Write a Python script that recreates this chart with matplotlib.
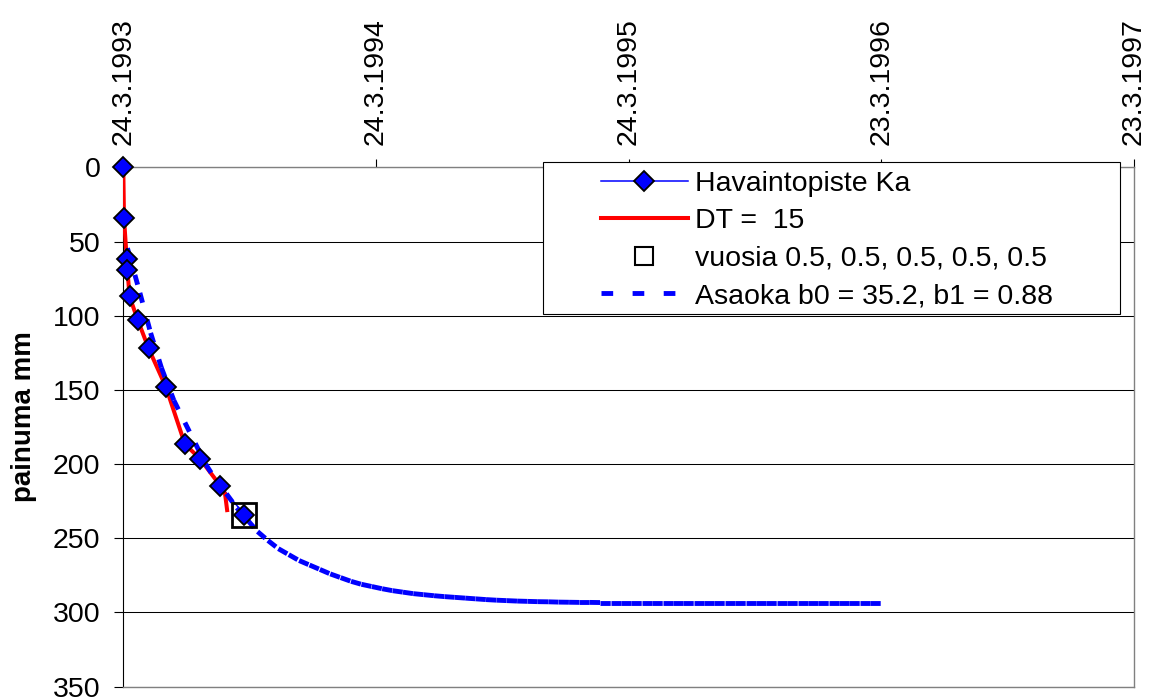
"""Settlement observations at point Ka with Asaoka prediction."""

import matplotlib
matplotlib.use("Agg")
import numpy as np
import matplotlib.pyplot as plt
import matplotlib.dates as mdates
from matplotlib.collections import LineCollection
from matplotlib.lines import Line2D
from matplotlib.patches import Rectangle

# days counted from the first observation 24.3.1993
start_date = "1993-03-24"

obs_days = [0, 1, 5, 6, 9, 21, 36.5, 61.5, 89, 111, 140, 175]
obs_vals = [0, 34, 62, 69, 87, 103, 122, 148, 186.5, 196.5, 214.5, 234]

red_days = [0, 1, 5, 6, 9, 21, 36.5, 61.5, 89, 111, 140, 147, 150]
red_vals = [0, 34, 62, 69, 87, 103, 122, 148, 186.5, 196.5, 214.5, 220, 231]

vuosia_days = [175]
vuosia_vals = [234]

asa_early_days = [6, 24, 39.5, 55, 73, 89, 104, 119, 134]
asa_early_vals = [54.5, 84.6, 111.6, 135, 157, 172, 186, 200, 211]
asa_tail_days = list(range(149, 1095, 15))
asa_tail_vals = [
    220, 229.5, 237.5, 245.5, 251.5, 257, 261, 265, 268, 271,
    274, 276.5, 279, 281, 282.5, 284, 285.3, 286.3, 287.3, 288,
    288.7, 289.3, 289.8, 290.3, 290.8, 291.3, 291.7, 292, 292.3, 292.5,
    292.7, 292.8, 293, 293.1, 293.2, 293.2, 293.3, 293.3, 293.3, 293.3,
    293.3, 293.3, 293.3, 293.3, 293.3, 293.3, 293.3, 293.3, 293.3, 293.3,
    293.3, 293.3, 293.3, 293.3, 293.3, 293.3, 293.3, 293.3, 293.3, 293.3,
    293.3, 293.3, 293.3, 293.3,
]

tick_dates = ["1993-03-24", "1994-03-24", "1995-03-24", "1996-03-23", "1997-03-23"]
tick_labels = ["24.3.1993", "24.3.1994", "24.3.1995", "23.3.1996", "23.3.1997"]
y_ticks = [0, 50, 100, 150, 200, 250, 300, 350]

labels = ["Havaintopiste Ka", "DT =  15", "vuosia 0.5, 0.5, 0.5, 0.5, 0.5",
          "Asaoka b0 = 35.2, b1 = 0.88"]


def main():
    plt.rcParams["font.family"] = ["Liberation Sans", "DejaVu Sans"]
    FS = 20.5
    BLUE = "#0000ff"
    RED = "#ff0000"
    asa_ls = (0, (2.1, 3.6))

    t0 = mdates.datestr2num(start_date)
    x_obs = t0 + np.array(obs_days)
    x_red = t0 + np.array(red_days)
    x_vuo = t0 + np.array(vuosia_days)
    x_asa = t0 + np.array(asa_early_days + asa_tail_days, dtype=float)
    y_asa = np.array(asa_early_vals + asa_tail_vals, dtype=float)

    fig = plt.figure(figsize=(11.49, 6.98), dpi=100)
    ax = fig.add_axes([0.1073, 0.0162, 0.8796, 0.7441])

    # observation line (mostly under the red one)
    ax.plot(x_obs, obs_vals, color=BLUE, lw=1.1, zorder=2)
    ax.plot(x_red, red_vals, color=RED, lw=2.9, zorder=3)

    # Asaoka curve, dash pattern restarts on every segment
    pts = np.column_stack([x_asa, y_asa])
    segs = [pts[i:i + 2] for i in range(len(pts) - 1)]
    lc = LineCollection(segs, colors=BLUE, linewidths=3.5,
                        linestyles=[asa_ls], capstyle="butt", zorder=4)
    ax.add_collection(lc)

    ax.plot(x_obs, obs_vals, ls="none", marker="D", ms=10, mfc=BLUE,
            mec="black", mew=1.3, zorder=6, clip_on=False)
    ax.plot(x_vuo, vuosia_vals, ls="none", marker="s", ms=17, mfc="none",
            mec="black", mew=2, zorder=7, clip_on=False)

    # axes
    ax.set_xlim(t0, mdates.datestr2num(tick_dates[-1]))
    ax.set_ylim(350, 0)
    ax.xaxis.tick_top()
    ax.set_xticks([mdates.datestr2num(d) for d in tick_dates])
    ax.set_xticklabels(tick_labels, rotation=90, fontsize=FS)
    ax.set_yticks(y_ticks)
    ax.set_yticklabels([str(v) for v in y_ticks], fontsize=FS)
    ax.tick_params(axis="x", direction="out", length=5.8, width=0.8, pad=10)
    ax.tick_params(axis="y", direction="out", length=6.5, width=0.8, pad=10,
                   right=False)
    ax.grid(axis="y", color="black", lw=0.75)
    ax.set_axisbelow(True)
    for side in ("right", "bottom", "top"):
        ax.spines[side].set_color("#808080")
        ax.spines[side].set_linewidth(1)
    ax.spines["left"].set_color("black")

    ax.set_ylabel("painuma mm", fontsize=20, fontweight="bold")
    ax.yaxis.set_label_coords(-0.0857, 0.521)

    # legend with Excel-like box
    handles = [
        Line2D([], [], color=BLUE, lw=1.1, marker="D", ms=10, mfc=BLUE,
               mec="black", mew=1.3),
        Line2D([], [], color=RED, lw=2.9),
        Line2D([], [], ls="none", marker="s", ms=13, mfc="none",
               mec="black", mew=1.5),
        Line2D([], [], color=BLUE, lw=3.5, ls=(0, (2.4, 4.0)),
               dash_capstyle="butt"),
    ]
    box = Rectangle((0.4149, 0.7176), 0.5717, 0.292, transform=ax.transAxes,
                    facecolor="white", edgecolor="black", lw=0.8,
                    zorder=7.5, clip_on=False)
    ax.add_patch(box)
    leg = ax.legend(handles, labels, loc="upper left",
                    bbox_to_anchor=(0.4726, 0.993), frameon=False,
                    fontsize=FS, handlelength=3.05, handletextpad=0.26,
                    labelspacing=0.4, borderpad=0, borderaxespad=0)
    leg.set_zorder(8)

    fig.savefig("out.png", dpi=100)


if __name__ == "__main__":
    main()
